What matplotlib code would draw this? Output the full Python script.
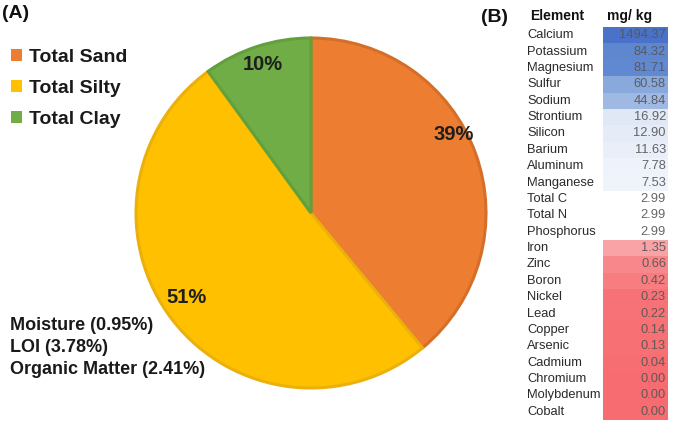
import numpy as np
import matplotlib
matplotlib.use("Agg")
import matplotlib.pyplot as plt
from matplotlib.patches import Rectangle

plt.rcParams["font.family"] = ["Liberation Sans", "DejaVu Sans"]

# ---- panel A data ----
soil_labels = ["Total Sand", "Total Silty", "Total Clay"]
soil_pct = [39, 51, 10]
soil_colors = ["#ED7D31", "#FFC000", "#70AD47"]
soil_edges = ["#D46F2A", "#EBB00C", "#62A03C"]
extra_notes = ["Moisture (0.95%)", "LOI (3.78%)", "Organic Matter (2.41%)"]

# ---- panel B data ----
elements = ["Calcium", "Potassium", "Magnesium", "Sulfur", "Sodium", "Strontium",
            "Silicon", "Barium", "Aluminum", "Manganese", "Total C", "Total N",
            "Phosphorus", "Iron", "Zinc", "Boron", "Nickel", "Lead", "Copper",
            "Arsenic", "Cadmium", "Chromium", "Molybdenum", "Cobalt"]
conc = [1494.37, 84.32, 81.71, 60.58, 44.84, 16.92, 12.90, 11.63, 7.78, 7.53,
        2.99, 2.99, 2.99, 1.35, 0.66, 0.42, 0.23, 0.22, 0.14, 0.13, 0.04,
        0.00, 0.00, 0.00]
# conditional-format shades
cell_colors = ["#4A72C8", "#5F87D0", "#6189D1", "#89A8DC", "#A0B9E2", "#E0E7F5",
               "#E5EBF7", "#E9EEF8", "#EEF2FA", "#EFF3FA", "#FFFFFF", "#FFFFFF",
               "#FFFFFF", "#F9A3A7", "#F8878B", "#F77D81", "#F77276", "#F77276",
               "#F77074", "#F77074", "#F76E72", "#F76C70", "#F76C70", "#F76C70"]

W, H = 674, 421
fig = plt.figure(figsize=(W / 100, H / 100), dpi=100)
ax = fig.add_axes([0, 0, 1, 1])


def Y(y):
    # image pixel row -> axis coordinate
    return H - y


# ---- pie ----
cx, cy, rad = 311, Y(213), 175
wedges, _, autotexts = ax.pie(
    soil_pct, colors=soil_colors, startangle=90, counterclock=False,
    center=(cx, cy), radius=rad, frame=True,
    autopct=lambda p: f"{p:.0f}%", pctdistance=0.88,
    wedgeprops=dict(linewidth=2.2),
    textprops=dict(fontsize=14.5, fontweight="bold", color="#1E1E1E"),
)
for w, ec in zip(wedges, soil_edges):
    w.set_edgecolor(ec)

# label placement (angle in degrees, fraction of radius), Excel "inside end" look
label_pos = [(29, 0.93), (-146, 0.86), (108, 0.89)]
for t, (ang, fr) in zip(autotexts, label_pos):
    a = np.deg2rad(ang)
    t.set_position((cx + fr * rad * np.cos(a), cy + fr * rad * np.sin(a)))

ax.set_xlim(0, W)
ax.set_ylim(0, H)
ax.set_aspect("equal")
ax.axis("off")

leg = ax.legend(wedges, soil_labels, loc="upper left",
                bbox_to_anchor=(3 / W, 1 - 41 / H), frameon=False,
                prop=dict(size=14, weight="bold"), handlelength=0.6,
                handleheight=0.6, handletextpad=0.35, labelspacing=0.72,
                borderaxespad=0)
for h in leg.legend_handles:
    h.set_linewidth(0)
for txt in leg.get_texts():
    txt.set_color("#1A1A1A")

for i, note in enumerate(extra_notes):
    ax.text(10, Y(326 + 22 * i), note, fontsize=13, fontweight="bold",
            color="#1A1A1A", ha="left", va="center")

ax.text(2, Y(13), "(A)", fontsize=14, fontweight="bold", color="#111111",
        ha="left", va="center")
ax.text(481, Y(17), "(B)", fontsize=14, fontweight="bold", color="#111111",
        ha="left", va="center")

# ---- table ----
top, bot = 27, 420
rh = (bot - top) / len(elements)
ax.text(530, Y(16), "Element", fontsize=10, fontweight="bold", color="#111111",
        ha="left", va="center")
ax.text(607, Y(16), "mg/ kg", fontsize=10, fontweight="bold", color="#111111",
        ha="left", va="center")
for i, (name, val, col) in enumerate(zip(elements, conc, cell_colors)):
    y0 = top + rh * i
    ax.add_patch(Rectangle((603, Y(y0 + rh)), 65, rh, facecolor=col,
                           edgecolor="none", zorder=1))
    yc = Y(y0 + rh / 2)
    ax.text(527, yc, name, fontsize=9.3, color="#2A2A2A", ha="left", va="center")
    ax.text(666, yc, f"{val:.2f}", fontsize=9.3, color="#555555", alpha=0.9,
            ha="right", va="center", zorder=2)

fig.savefig("out.png", dpi=100)
